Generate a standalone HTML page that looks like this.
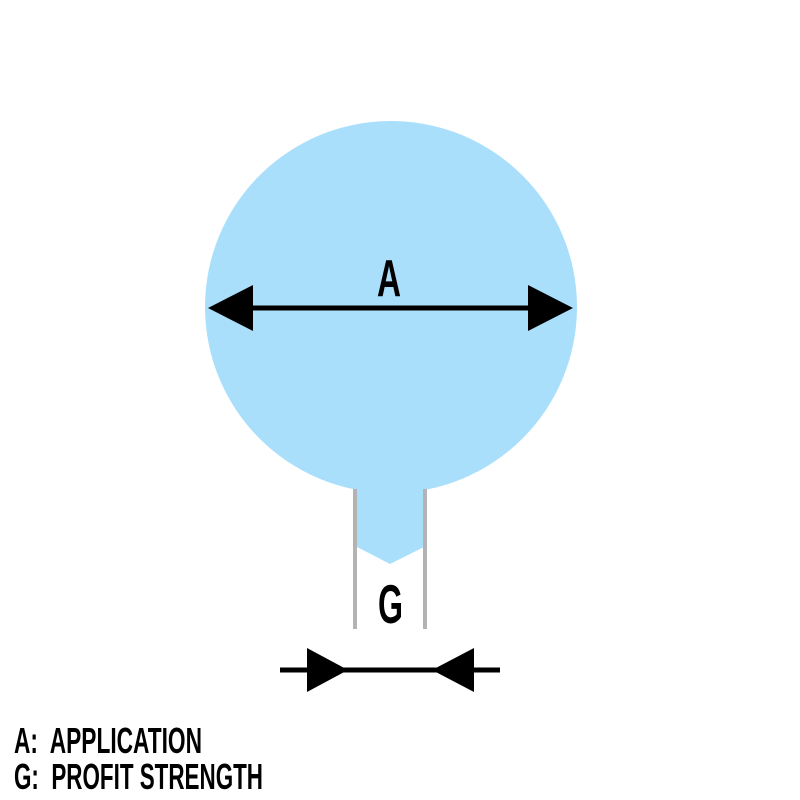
<!DOCTYPE html>
<html><head><style>html,body{margin:0;padding:0;background:#fff}svg{display:block}</style></head>
<body>
<svg width="800" height="800" viewBox="0 0 800 800" xmlns="http://www.w3.org/2000/svg">
<rect width="800" height="800" fill="#fff"/>
<circle cx="391" cy="307" r="186" fill="#aadffc"/>
<polygon points="357,470 424,470 424,547 390,564 357,547" fill="#aadffc"/>
<rect x="353" y="489" width="4" height="140" fill="#b3b3b3"/>
<rect x="423" y="489" width="4" height="140" fill="#b3b3b3"/>
<g font-family="Liberation Sans, sans-serif" font-weight="bold" fill="#000">
<text x="377" y="296" font-size="52" textLength="24" lengthAdjust="spacingAndGlyphs">A</text>
<text x="378" y="623" font-size="55" textLength="25" lengthAdjust="spacingAndGlyphs">G</text>
<text x="14" y="753" font-size="36" textLength="188" lengthAdjust="spacingAndGlyphs">A:&#160; APPLICATION</text>
<text x="14" y="789" font-size="36" textLength="249" lengthAdjust="spacingAndGlyphs">G:&#160; PROFIT STRENGTH</text>
</g>
<rect x="220" y="305.5" width="340" height="5" fill="#000"/>
<polygon points="208,308 253,285 253,331" fill="#000"/>
<polygon points="573,308 528,285 528,331" fill="#000"/>
<rect x="280" y="667.5" width="220" height="5" fill="#000"/>
<polygon points="348,670 307,648 307,692" fill="#000"/>
<polygon points="432,670 474,648 474,692" fill="#000"/>
</svg>
</body></html>
